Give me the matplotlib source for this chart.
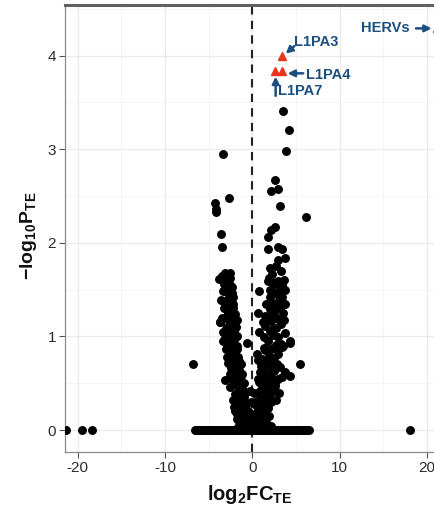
import matplotlib
matplotlib.use("Agg")
import matplotlib.pyplot as plt
from matplotlib.ticker import MultipleLocator

plt.rcParams['font.family'] = ['Liberation Sans', 'DejaVu Sans']
plt.rcParams['axes.unicode_minus'] = False
plt.rcParams['mathtext.fontset'] = 'custom'
plt.rcParams['mathtext.rm'] = 'Liberation Sans'
plt.rcParams['mathtext.bf'] = 'Liberation Sans:bold'
plt.rcParams['mathtext.it'] = 'Liberation Sans:italic'

# ---------------- data ----------------
# non-significant TEs lying on the zero line
zero_x = [-21.3, -19.45, -18.4, 18.1,
          -6.6, -6.45, -6.3, -6.1, -5.95, -5.8, -5.6, -5.45, -5.3, -5.1, -4.95,
          -4.8, -4.6, -4.45, -4.3, -4.1, -3.95, -3.8, -3.6, -3.45, -3.3, -3.1,
          -2.95, -2.8, -2.6, -2.45, -2.3, -2.1, -1.95, -1.8, -1.6, -1.45, -1.3,
          -1.1, -0.95, -0.8, -0.6, -0.45, -0.3, -0.1, 0.05, 0.2, 0.4, 0.55,
          0.7, 0.9, 1.05, 1.2, 1.4, 1.55, 1.7, 1.9, 2.05, 2.2, 2.4, 2.55, 2.7,
          2.9, 3.05, 3.2, 3.4, 3.55, 3.7, 3.9, 4.05, 4.2, 4.4, 4.55, 4.7, 4.9,
          5.05, 5.2, 5.4, 5.55, 5.7, 5.9, 6.05, 6.2, 6.4, 6.55]

# TEs with non-zero -log10 P (left arm, x<0)
left_x = [-3.3, -4.3, -2.7, -4.2, -4.2, -3.6, -3.45, -3.1, -2.55, -3.4, -3.6,
          -3.8, -3.2, -2.55, -3.4, -2.35, -2.7, -3.0, -2.3, -2.6, -2.8, -3.75,
          -3.2, -2.15, -2.75, -2.25, -2.75, -3.0, -3.75, -2.45, -2.0, -3.3,
          -2.6, -2.9, -2.2, -2.7, -3.1, -2.1, -1.9, -2.5, -2.85, -1.75, -2.4,
          -3.0, -2.15, -1.7, -2.7, -2.5, -2.0, -1.6, -2.8, -2.2, -1.55, -1.3,
          -2.4, -1.95, -0.6, -1.5, -2.6, -2.1, -1.2, -1.7, -2.3, -1.4, -1.0,
          -3.1, -2.5, -1.9, -1.5, -1.1, -2.0, -1.6, -0.8, -2.25, -1.4, -1.05,
          -0.7, -1.9, -1.45, -0.9, -0.5, -1.75, -1.25, -0.75, -0.35, -1.55,
          -1.0, -0.55, -1.95, -1.35, -0.85, -0.25, -1.2, -0.65, -0.15, -1.05,
          -0.5, -0.05, -0.85, -0.35, -0.65, -0.15, -6.8,
          -3.5, -3.0, -2.5, -3.3, -2.2, -2.9, -3.5, -2.4, -1.8, -3.0, -2.6,
          -2.0, -3.4, -2.8, -1.8, -2.3, -2.9, -1.5, -2.6, -1.9, -2.4, -1.3,
          -2.0, -1.7, -1.6, -1.2, -0.9, -0.3, -0.1, -0.6, -1.4, -0.2, -1.2,
          -0.4, -1.6, -2.1, -1.8, -1.1]
left_y = [2.95, 2.42, 2.48, 2.36, 2.33, 2.09, 1.95, 1.68, 1.68, 1.61, 1.39,
          1.61, 1.56, 1.62, 1.38, 1.53, 1.45, 1.49, 1.46, 1.55, 1.4, 1.15,
          1.3, 1.42, 1.32, 1.3, 1.24, 1.2, 1.15, 1.22, 1.24, 1.05, 1.14, 1.1,
          1.16, 1.04, 0.98, 1.06, 1.1, 0.98, 0.92, 1.0, 0.94, 0.86, 0.9, 0.86,
          0.8, 0.84, 0.82, 0.78, 0.72, 0.76, 0.72, 0.7, 0.66, 0.68, 0.93,
          0.64, 0.6, 0.62, 0.6, 0.56, 0.54, 0.52, 0.5, 0.53, 0.46, 0.48, 0.44,
          0.42, 0.38, 0.36, 0.4, 0.32, 0.3, 0.34, 0.28, 0.24, 0.22, 0.25,
          0.2, 0.17, 0.18, 0.15, 0.14, 0.1, 0.12, 0.1, 0.2, 0.07, 0.08, 0.06,
          0.04, 0.05, 0.08, 0.03, 0.03, 0.02, 0.02, 0.03, 0.015, 0.01, 0.71,
          1.65, 1.58, 1.5, 1.48, 1.35, 1.28, 1.2, 1.12, 1.18, 1.08, 1.02,
          0.98, 0.95, 0.95, 0.9, 0.84, 0.78, 0.74, 0.7, 0.62, 0.58, 0.58,
          0.52, 0.55, 0.4, 0.45, 0.35, 0.42, 0.3, 0.2, 0.15, 0.12, 0.05,
          0.05, 0.03, 0.25, 0.12, 0.3]

# TEs with non-zero -log10 P (right arm, x>0)
right_x = [3.5, 4.2, 3.85, 2.6, 2.15, 2.9, 3.2, 6.15, 2.55, 2.1, 1.75, 3.0,
           3.45, 1.75, 3.8, 2.9, 2.05, 2.3, 1.75, 2.9, 3.35, 3.7, 0.8, 2.05,
           2.6, 2.05, 3.1, 3.35, 0.7, 3.5, 3.75, 4.3, 5.45, 4.3, 3.45, 0.5,
           0.75, 3.55, 4.3, 1.9, 2.5, 3.2, 2.3, 2.8, 3.2, 2.0, 2.5, 2.9, 1.7,
           2.2, 3.3, 2.7, 1.5, 2.0, 2.4, 3.0, 1.3, 1.8, 2.7, 3.4, 2.2, 1.5,
           3.0, 1.9, 2.5, 1.1, 1.6, 2.8, 2.1, 3.2, 1.3, 2.5, 1.8, 1.0, 2.2,
           2.9, 1.4, 0.8, 1.9, 2.6, 1.1, 1.6, 2.3, 0.6, 1.3, 1.9, 0.9, 2.1,
           1.5, 0.4, 1.1, 1.8, 0.7, 1.3, 0.25, 0.9, 1.6, 0.45, 1.1, 0.15, 0.7,
           1.4, 0.35, 0.55, 0.9, 0.2, 0.6, 0.3,
           3.3, 2.7, 3.6, 2.3, 2.9, 3.7, 1.6, 2.7, 3.6, 1.5, 2.4, 1.2, 3.3,
           1.3, 2.6, 0.6, 1.0, 2.4, 3.7, 0.9, 1.6, 2.6, 0.6, 1.9, 1.3, 2.2,
           0.9, 3.1, 2.7, 1.7, 0.3, 0.2, 0.5, 0.7, 1.9, 1.7, 2.1, 1.0, 0.4]
right_y = [3.41, 3.2, 2.98, 2.67, 2.55, 2.57, 2.39, 2.28, 2.17, 2.14, 2.06,
           1.95, 1.93, 1.93, 1.84, 1.82, 1.73, 1.67, 1.59, 1.59, 1.55, 1.5,
           1.49, 1.5, 1.46, 1.42, 1.39, 1.42, 1.25, 1.25, 1.04, 0.93, 0.71,
           0.58, 0.57, 0.81, 1.05, 0.9, 0.95, 1.62, 1.56, 1.51, 1.36, 1.33,
           1.29, 1.29, 1.23, 1.19, 1.21, 1.16, 1.13, 1.09, 1.11, 1.06, 1.01,
           0.99, 0.99, 0.95, 0.91, 0.89, 0.87, 0.85, 0.81, 0.79, 0.77, 0.76,
           0.73, 0.71, 0.69, 0.67, 0.65, 0.63, 0.61, 0.59, 0.56, 0.54, 0.53,
           0.51, 0.49, 0.47, 0.45, 0.43, 0.41, 0.39, 0.37, 0.35, 0.33, 0.3,
           0.28, 0.27, 0.25, 0.23, 0.21, 0.19, 0.17, 0.15, 0.13, 0.11, 0.09,
           0.08, 0.07, 0.05, 0.05, 0.12, 0.03, 0.03, 0.22, 0.02,
           1.7, 1.75, 1.6, 1.58, 1.45, 1.35, 1.35, 1.3, 1.18, 1.22, 1.08,
           1.15, 0.92, 0.88, 0.88, 0.75, 0.68, 0.72, 0.62, 0.62, 0.57, 0.5,
           0.55, 0.5, 0.48, 0.44, 0.42, 0.4, 0.32, 0.32, 0.3, 0.4, 0.18,
           0.12, 0.15, 0.06, 0.04, 0.02, 0.08]

# highlighted TEs
hi_names = ['HERVs', 'L1PA3', 'L1PA4', 'L1PA7']
hi_x = [21.15, 3.45, 3.35, 2.6]
hi_y = [4.29, 4.0, 3.83, 3.83]

x_ticks = [-20, -10, 0, 10, 20]
y_ticks = [0, 1, 2, 3, 4]

# ---------------- figure ----------------
fig = plt.figure(figsize=(4.35, 5.08), dpi=100)
ax = fig.add_axes([65 / 435, 1 - 452 / 508, 1 - 65 / 435, (452 - 5) / 508])
ax.set_xlim(-21.45, 20.93)
ax.set_ylim(-0.235, 4.54)

ax.set_xticks(x_ticks)
ax.set_yticks(y_ticks)
ax.xaxis.set_minor_locator(MultipleLocator(5))
ax.yaxis.set_minor_locator(MultipleLocator(0.5))
ax.grid(which='major', color='#ebebeb', lw=1.0, zorder=0)
ax.grid(which='minor', color='#f3f3f3', lw=0.6, zorder=0)
ax.set_axisbelow(True)
ax.tick_params(which='minor', length=0)
ax.tick_params(which='major', direction='out', length=4, width=0.8,
               color='#555555', labelsize=11, labelcolor='#2b2b2b', pad=2.5)

ax.spines['right'].set_visible(False)
ax.spines['top'].set_color('#606060')
ax.spines['top'].set_linewidth(2.2)
for s in ['left', 'bottom']:
    ax.spines[s].set_color('#8a8a8a')
    ax.spines[s].set_linewidth(0.9)

ax.axvline(0, color='#222222', lw=1.5, ls=(0, (4, 3)), zorder=1)

ms = 5.4
ax.plot(zero_x, [0] * len(zero_x), 'o', color='black', ms=ms, zorder=3)
ax.plot(left_x, left_y, 'o', color='black', ms=ms, zorder=3)
ax.plot(right_x, right_y, 'o', color='black', ms=ms, zorder=3)
ax.plot(hi_x, hi_y, '^', color='#e8361e', ms=6, zorder=4)

blue = '#1a4f7e'
tkw = dict(color=blue, fontsize=10.5, fontweight='bold', va='center', ha='left')
akw = dict(arrowstyle='-|>', color=blue, lw=1.8, mutation_scale=10,
           shrinkA=0, shrinkB=0)
# labels
ax.text(4.81, 4.15, 'L1PA3', **tkw)
ax.text(6.12, 3.79, 'L1PA4', **tkw)
ax.text(2.9, 3.62, 'L1PA7', **tkw)
ax.text(12.5, 4.29, 'HERVs', **tkw)
# arrows
ax.annotate('', xy=(3.83, 4.02), xytext=(4.81, 4.1), arrowprops=akw)
ax.annotate('', xy=(4.05, 3.81), xytext=(5.84, 3.81), arrowprops=akw)
ax.annotate('', xy=(2.68, 3.775), xytext=(2.68, 3.57), arrowprops=akw)
ax.annotate('', xy=(20.55, 4.29), xytext=(18.75, 4.29), arrowprops=akw,
            annotation_clip=False)

fig.text(250 / 435, 1 - 494 / 508, r'$\mathbf{log_{2}FC_{TE}}$',
         ha='center', va='center', fontsize=14.5, color='#111111')
fig.text(29 / 435, 1 - 236 / 508, r'$\mathbf{-log_{10}P_{TE}}$',
         ha='center', va='center', fontsize=14, rotation=90, color='#111111')

fig.savefig('out.png', dpi=100)
